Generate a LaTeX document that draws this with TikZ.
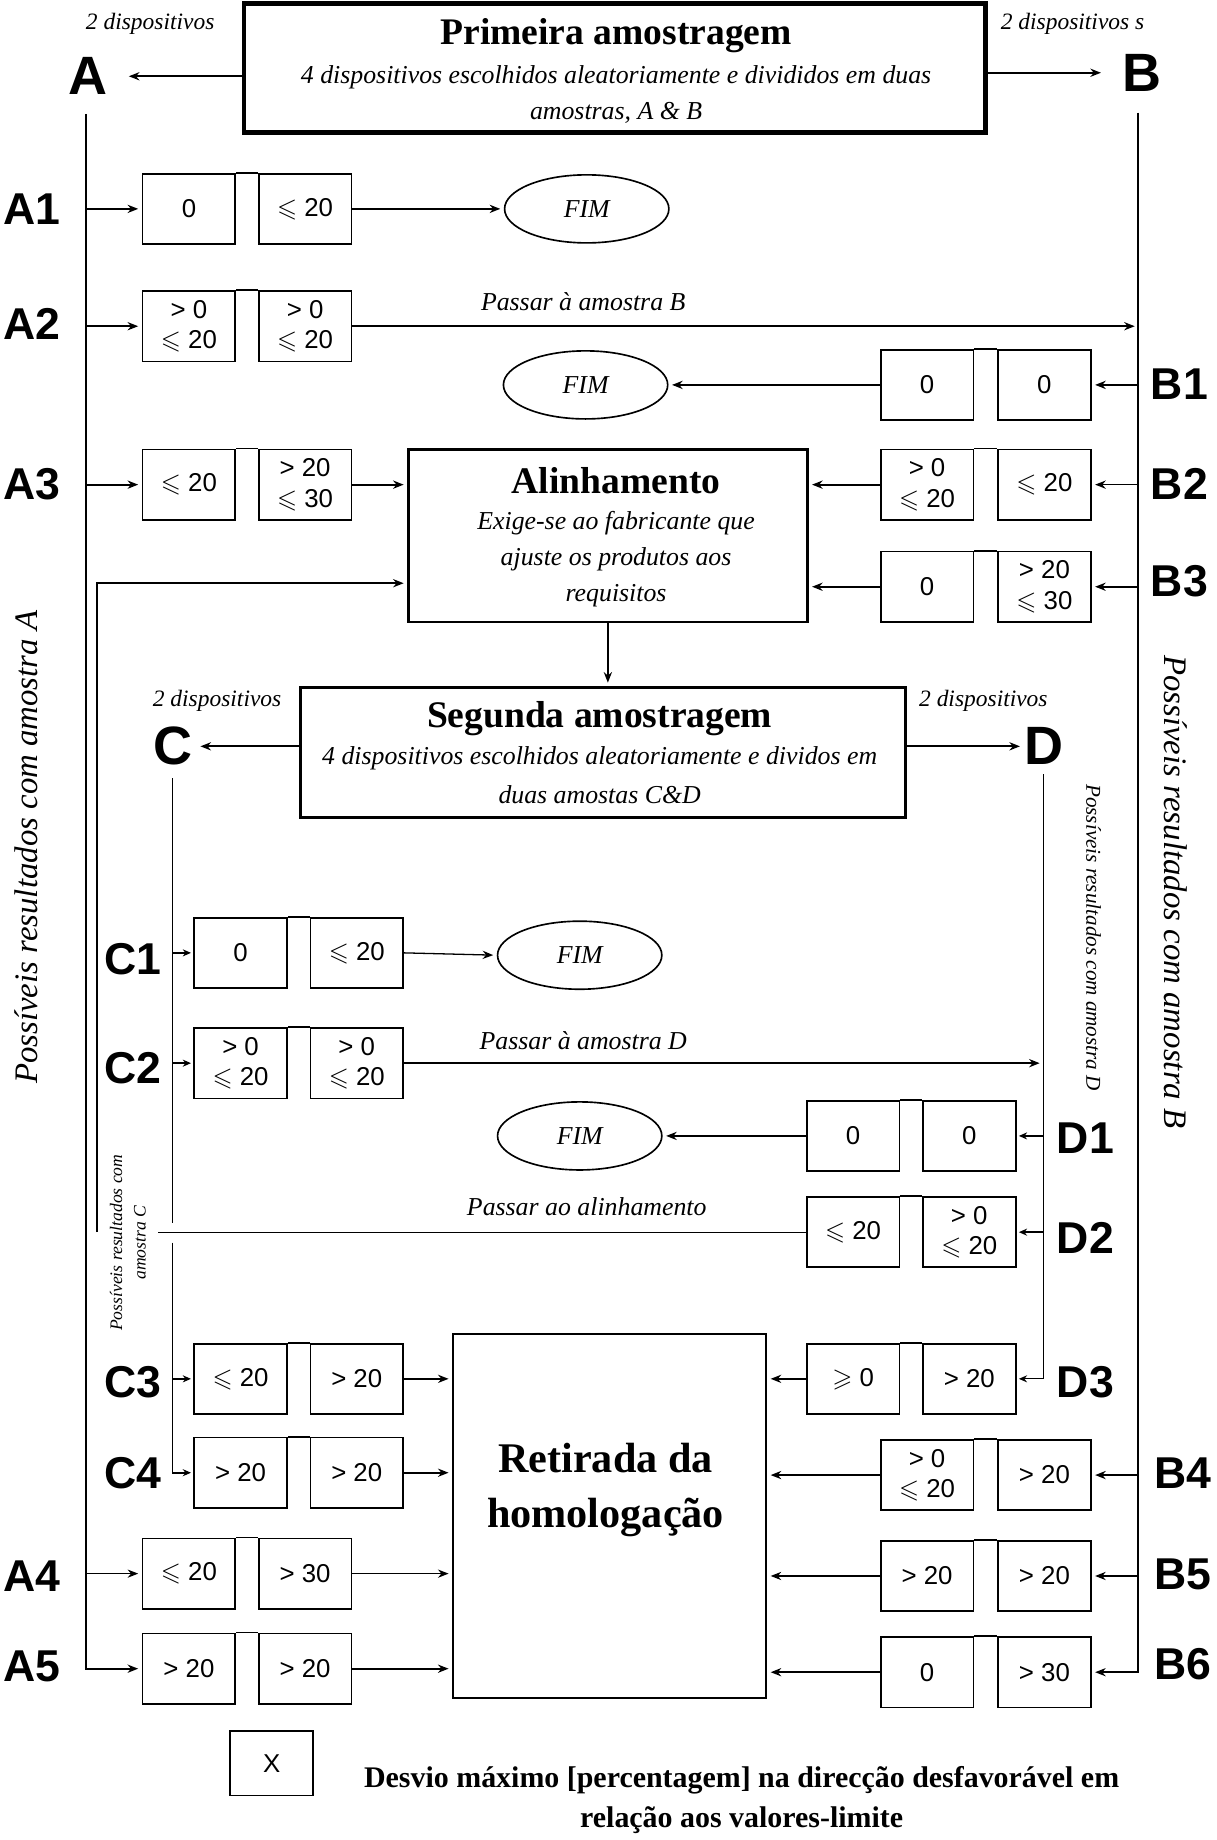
\documentclass[tikz,border=0pt]{standalone}
\usepackage{amssymb}
\usepackage{fontspec}
\setmainfont{Liberation Serif}
\setsansfont{Liberation Sans}
\usetikzlibrary{arrows.meta,shapes.geometric}
\newcommand\pairbox[6]{%
  \node[vbox] (#1l) at (#2,#4) {#5};
  \node[vbox] (#1r) at (#3,#4) {#6};
  \draw[bline] (#1l.north east) -- (#1r.north west);}
\newcommand\vle{$\leqslant$~}
\newcommand\vge{$\geqslant$~}
\begin{document}
\begin{tikzpicture}[x=1pt,y=-1pt,
  vbox/.style={draw,line width=1.5pt,minimum width=79pt,minimum height=60pt,inner sep=0pt,align=center,font=\sffamily\fontsize{22}{26}\selectfont},
  bline/.style={line width=1.5pt},
  arr/.style={line width=1.6pt,-{Stealth[length=9pt,width=7pt]},shorten >=3pt},
  arrs/.style={line width=1.3pt,-{Stealth[length=7pt,width=6pt]},shorten >=2pt},
  ln/.style={line width=1.6pt},
  rowlab/.style={inner sep=0pt,font=\sffamily\bfseries\fontsize{38}{40}\selectfont},
  biglab/.style={inner sep=0pt,font=\sffamily\bfseries\fontsize{46}{48}\selectfont},
  itx/.style={inner sep=0pt,font=\itshape\fontsize{22}{28}\selectfont},
  dtx/.style={inner sep=0pt,font=\itshape\fontsize{20}{24}\selectfont},
  ttl/.style={inner sep=0pt,font=\bfseries\fontsize{32}{36}\selectfont},
  fim/.style={draw,ellipse,line width=1.4pt,minimum width=140pt,minimum height=58pt,inner sep=0pt,font=\itshape\fontsize{22}{24}\selectfont},
  rot/.style={inner sep=0pt,font=\itshape\fontsize{28}{30}\selectfont},
]
\fill[white] (0,0) rectangle (1037,1568);
\useasboundingbox (0,0) rectangle (1037,1568);

% ---------- top ----------
\node[draw,line width=4pt,minimum width=632pt,minimum height=110pt,inner sep=0pt] (prim) at (524,58) {};
\node[ttl] (primt1) at (525,30) {Primeira amostragem};
\node[itx] (primt2) at (525,66) {4 dispositivos escolhidos aleatoriamente e divididos em duas};
\node[itx] (primt3) at (525,96) {amostras, A \& B};
\node[dtx] (dA) at (128,20) {2 dispositivos};
\node[dtx] (dB) at (914,20) {2 dispositivos s};
\node[biglab] (labA) at (75,65) {A};
\node[biglab] (labB) at (973,62) {B};
\draw[arr,shorten >=18pt] (prim.west |- labA) -- (labA.east);
\draw[arr,shorten >=18pt] (prim.east |- labB) -- (labB.west);

\coordinate (Atop) at (73,97);
\coordinate (Abot) at (73,1422);
\coordinate (Btop) at (970,96);
\coordinate (Bbot) at (970,1425);

% ---------- A rows ----------
\pairbox{a1}{161}{260}{178}{0}{\vle20}
\pairbox{a2}{161}{260}{278}{>~0\\\vle20}{>~0\\\vle20}
\pairbox{a3}{161}{260}{413}{\vle20}{>~20\\\vle30}
\pairbox{a4}{161}{260}{1341}{\vle20}{>~30}
\pairbox{a5}{161}{260}{1422}{>~20}{>~20}
\node[rowlab] (la1) at (27,178) {A1};
\node[rowlab] (la2) at (27,276) {A2};
\node[rowlab] (la3) at (27,413) {A3};
\node[rowlab] (la4) at (27,1343) {A4};
\node[rowlab] (la5) at (27,1420) {A5};

% ---------- B rows ----------
\pairbox{b1}{790}{890}{328}{0}{0}
\pairbox{b2}{790}{890}{413}{>~0\\\vle20}{\vle20}
\pairbox{b3}{790}{890}{500}{0}{>~20\\\vle30}
\pairbox{b4}{790}{890}{1257}{>~0\\\vle20}{>~20}
\pairbox{b5}{790}{890}{1343}{>~20}{>~20}
\pairbox{b6}{790}{890}{1425}{0}{>~30}
\node[rowlab] (lb1) at (1005,327) {B1};
\node[rowlab] (lb2) at (1005,412) {B2};
\node[rowlab] (lb3) at (1005,495) {B3};
\node[rowlab] (lb4) at (1008,1255) {B4};
\node[rowlab] (lb5) at (1008,1342) {B5};
\node[rowlab] (lb6) at (1008,1418) {B6};

% ---------- FIM ellipses ----------
\node[fim] (fim1) at (500,178) {FIM};
\node[fim] (fim2) at (499,328) {FIM};
\node[fim] (fim3) at (494,814) {FIM};
\node[fim] (fim4) at (494,968) {FIM};

% ---------- Alinhamento ----------
\node[draw,line width=2pt,minimum width=340pt,minimum height=147pt,inner sep=0pt] (alin) at (518,456.5) {};
\node[ttl] (alint1) at (525,410) {Alinhamento};
\node[itx] (alint2) at (525,446) {Exige-se ao fabricante que};
\node[itx] (alint3) at (525,477) {ajuste os produtos aos};
\node[itx] (alint4) at (525,508) {requisitos};

% ---------- Segunda ----------
\node[draw,line width=2.5pt,minimum width=516pt,minimum height=111pt,inner sep=0pt] (seg) at (514,641.5) {};
\node[ttl] (segt1) at (511,612) {Segunda amostragem};
\node[itx] (segt2) at (511,646) {4 dispositivos escolhidos aleatoriamente e dividos em};
\node[itx] (segt3) at (511,677) {duas amostas C\&D};
\node[dtx] (dC) at (185,597) {2 dispositivos};
\node[dtx] (dD) at (838,597) {2 dispositivos};
\node[biglab] (labC) at (147,636) {C};
\node[biglab] (labD) at (890,636) {D};
\draw[arr,shorten >=7pt] (seg.west |- labC) -- (labC.east);
\draw[arr,shorten >=4pt] (seg.east |- labD) -- (labD.west);
\draw[arr] (alin.south) -- (alin.south |- seg.north);

\coordinate (Ctop) at (147,663);
\coordinate (Cg1) at (147,1042);
\coordinate (Cg2) at (147,1059);
\coordinate (Cbot) at (147,1255);
\coordinate (Dtop) at (889,660);
\coordinate (Dbot) at (889,1175);

% ---------- C rows ----------
\pairbox{c1}{205}{304}{812}{0}{\vle20}
\pairbox{c2}{205}{304}{906}{>~0\\\vle20}{>~0\\\vle20}
\pairbox{c3}{205}{304}{1175}{\vle20}{>~20}
\pairbox{c4}{205}{304}{1255}{>~20}{>~20}
\node[rowlab] (lc1) at (113,817) {C1};
\node[rowlab] (lc2) at (113,910) {C2};
\node[rowlab] (lc3) at (113,1178) {C3};
\node[rowlab] (lc4) at (113,1255) {C4};

% ---------- D rows ----------
\pairbox{d1}{727}{826}{968}{0}{0}
\pairbox{d2}{727}{826}{1050}{\vle20}{>~0\\\vle20}
\pairbox{d3}{727}{826}{1175}{\vge0}{>~20}
\node[rowlab] (ld1) at (925,970) {D1};
\node[rowlab] (ld2) at (925,1055) {D2};
\node[rowlab] (ld3) at (925,1178) {D3};

% ---------- Retirada ----------
\node[draw,line width=1.5pt,minimum width=267pt,minimum height=310pt,inner sep=0pt] (ret) at (519.5,1292) {};
\node[inner sep=0pt,align=center,font=\bfseries\fontsize{36}{47}\selectfont] (rett) at (516,1270) {Retirada da\\homologação};

% ---------- vertical lines & connectors ----------
\draw[arr] (Atop) -- (Abot) -- (a5l.west);
\draw[arr] (Atop |- a1l.west) -- (a1l.west);
\draw[arr] (Atop |- a2l.west) -- (a2l.west);
\draw[arr] (Atop |- a3l.west) -- (a3l.west);
\draw[arr,line width=1.1pt] (Atop |- a4l.west) -- (a4l.west);
\draw[arr] (a1r.east) -- (fim1.west);
\draw[arr] (a2r.east) -- (Btop |- a2r.east);
\draw[arr] (a3r.east) -- (alin.west |- a3r.east);
\draw[arr,line width=1.1pt] (a4r.east) -- (ret.west |- a4r.east);
\draw[arr] (a5r.east) -- (ret.west |- a5r.east);

\draw[arr,line width=1.4pt] (Btop) -- (Bbot) -- (b6r.east);
\draw[arr,line width=1.4pt] (Btop |- b1r.east) -- (b1r.east);
\draw[arr,line width=1.4pt] (Btop |- b2r.east) -- (b2r.east);
\draw[arr,line width=1.4pt] (Btop |- b3r.east) -- (b3r.east);
\draw[arr,line width=1.4pt] (Btop |- b4r.east) -- (b4r.east);
\draw[arr,line width=1.1pt] (Btop |- b5r.east) -- (b5r.east);
\draw[arr] (b1l.west) -- (fim2.east);
\draw[arr] (b2l.west) -- (alin.east |- b2l.west);
\draw[arr] (b3l.west) -- (alin.east |- b3l.west);
\draw[arr] (b4l.west) -- (ret.east |- b4l.west);
\draw[arr,line width=1.1pt] (b5l.west) -- (ret.east |- b5l.west);
\draw[arr] (b6l.west) -- (ret.east |- b6l.west);

\draw[ln] (Ctop) -- (Cg1);
\draw[arrs,line width=1.6pt] (Cg2) -- (Cbot) -- (c4l.west);
\draw[arrs] (Ctop |- c1l.west) -- (c1l.west);
\draw[arrs] (Ctop |- c2l.west) -- (c2l.west);
\draw[arrs] (Ctop |- c3l.west) -- (c3l.west);
\draw[arr,line width=1.1pt] (c1r.east) -- (fim3.west);
\draw[arr] (c2r.east) -- (Dtop |- c2r.east);
\draw[arr,line width=1.3pt] (c3r.east) -- (ret.west |- c3r.east);
\draw[arr] (c4r.east) -- (ret.west |- c4r.east);

\draw[arrs,line width=1.1pt] (Dtop) -- (Dbot) -- (d3r.east);
\draw[arrs] (Dtop |- d1r.east) -- (d1r.east);
\draw[arrs] (Dtop |- d2r.east) -- (d2r.east);
\draw[arr,line width=1.1pt] (d1l.west) -- (fim4.east);
\draw[arr,line width=1.3pt] (d3l.west) -- (ret.east |- d3l.west);

\coordinate (pal) at (135,1050);
\coordinate (fbb) at (83,1050);
\coordinate (fbt) at (83,497);
\draw[line width=1.1pt] (d2l.west) -- (pal);
\draw[arr] (fbb) -- (fbt) -- (alin.west |- fbt);

% ---------- connector labels ----------
\node[itx] (pB) at (497,257) {Passar à amostra B};
\node[itx] (pD) at (497,887) {Passar à amostra D};
\node[itx] (pAl) at (500,1028) {Passar ao alinhamento};

% ---------- rotated texts ----------
\node[rot,rotate=90] (rA) at (22,722) {Possíveis resultados com amostra A};
\node[rot,rotate=-90] (rB) at (1002,760) {Possíveis resultados com amostra B};
\node[inner sep=0pt,rotate=-90,font=\itshape\fontsize{18}{20}\selectfont] (rD) at (932,799) {Possíveis resultados com amostra D};
\node[inner sep=0pt,rotate=90,align=center,font=\itshape\fontsize{15}{20}\selectfont] (rC) at (109,1059) {Possíveis resultados com\\amostra C};

% ---------- legend ----------
\node[draw,line width=1.5pt,minimum width=71pt,minimum height=55pt,inner sep=0pt,font=\sffamily\fontsize{22}{24}\selectfont] (xbox) at (231.5,1502.5) {X};
\node[inner sep=0pt,align=center,font=\bfseries\fontsize{25.5}{34}\selectfont] (leg) at (632,1534) {Desvio máximo [percentagem] na direcção desfavorável em\\relação aos valores-limite};
\end{tikzpicture}
\end{document}
